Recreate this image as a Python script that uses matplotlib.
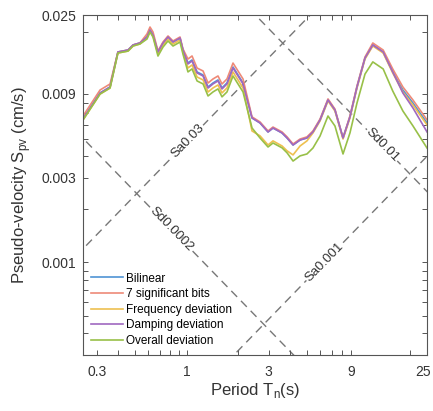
import numpy as np
import matplotlib
matplotlib.use('Agg')
import matplotlib.pyplot as plt
import matplotlib.transforms as mtransforms
from matplotlib.ticker import FixedLocator, NullFormatter, LogLocator

plt.rcParams['font.family'] = ['Liberation Sans', 'DejaVu Sans']

# periods (s)
period = [0.25, 0.314, 0.359, 0.399, 0.457, 0.489, 0.536, 0.589, 0.613, 0.638,
          0.682, 0.730, 0.780, 0.834, 0.916, 0.953, 1.019, 1.076, 1.151, 1.247,
          1.333, 1.425, 1.523, 1.607, 1.718, 1.862, 2.129, 2.402, 2.673, 2.976,
          3.18, 3.59, 3.84, 4.16, 4.57, 5.01, 5.43, 5.97, 6.64, 7.29,
          8.12, 8.91, 9.79, 10.9, 12.1, 13.9, 15.8, 18.1, 20.7, 25.0]

# pseudo-velocity (cm/s)
bilinear = [0.00646, 0.00906, 0.00980, 0.01545, 0.01585, 0.01693, 0.01738, 0.01879, 0.02056, 0.01928,
            0.01545, 0.01738, 0.01879, 0.01760, 0.01854, 0.01585, 0.01339, 0.01393, 0.01191, 0.01146,
            0.00980, 0.01033, 0.01074, 0.00968, 0.01033, 0.01271, 0.01033, 0.00655, 0.00614, 0.00546,
            0.00575, 0.00539, 0.00505, 0.00461, 0.00492, 0.00505, 0.00546, 0.00638, 0.00828, 0.00726,
            0.00505, 0.00664, 0.00980, 0.01429, 0.01693, 0.01545, 0.01191, 0.00942, 0.00796, 0.00614]

bits7 = [0.00672, 0.00942, 0.01019, 0.01545, 0.01585, 0.01693, 0.01738, 0.01954, 0.02138, 0.02005,
         0.01565, 0.01761, 0.01903, 0.01783, 0.01878, 0.01606, 0.01410, 0.01467, 0.01254, 0.01207,
         0.01032, 0.01088, 0.01131, 0.01019, 0.01088, 0.01338, 0.01088, 0.00664, 0.00622, 0.00553,
         0.00582, 0.00546, 0.00512, 0.00467, 0.00498, 0.00512, 0.00553, 0.00646, 0.00839, 0.00735,
         0.00505, 0.00673, 0.00993, 0.01448, 0.01737, 0.01585, 0.01239, 0.00980, 0.00828, 0.00639]

freq_dev = [0.00638, 0.00894, 0.00967, 0.01525, 0.01564, 0.01671, 0.01715, 0.01855, 0.02029, 0.01903,
            0.01505, 0.01693, 0.01830, 0.01714, 0.01806, 0.01544, 0.01255, 0.01305, 0.01116, 0.01074,
            0.00918, 0.00968, 0.01006, 0.00907, 0.00968, 0.01191, 0.00968, 0.00553, 0.00519, 0.00461,
            0.00486, 0.00455, 0.00427, 0.00405, 0.00455, 0.00486, 0.00539, 0.00630, 0.00817, 0.00717,
            0.00498, 0.00655, 0.00967, 0.01410, 0.01671, 0.01525, 0.01176, 0.00917, 0.00775, 0.00598]

damp_dev = [0.00646, 0.00906, 0.00980, 0.01545, 0.01585, 0.01693, 0.01738, 0.01879, 0.02056, 0.01928,
            0.01545, 0.01738, 0.01879, 0.01760, 0.01854, 0.01585, 0.01322, 0.01375, 0.01176, 0.01131,
            0.00967, 0.01020, 0.01060, 0.00955, 0.01020, 0.01255, 0.01020, 0.00655, 0.00614, 0.00546,
            0.00575, 0.00539, 0.00505, 0.00461, 0.00492, 0.00505, 0.00546, 0.00638, 0.00828, 0.00726,
            0.00505, 0.00664, 0.00980, 0.01429, 0.01693, 0.01545, 0.01191, 0.00906, 0.00746, 0.00546]

overall_dev = [0.00638, 0.00894, 0.00967, 0.01525, 0.01564, 0.01671, 0.01715, 0.01830, 0.02003, 0.01878,
               0.01466, 0.01649, 0.01783, 0.01670, 0.01759, 0.01504, 0.01192, 0.01240, 0.01060, 0.01020,
               0.00872, 0.00919, 0.00956, 0.00862, 0.00919, 0.01131, 0.00919, 0.00575, 0.00505, 0.00449,
               0.00473, 0.00444, 0.00416, 0.00374, 0.00400, 0.00410, 0.00443, 0.00518, 0.00672, 0.00590,
               0.00410, 0.00539, 0.00796, 0.01160, 0.01358, 0.01239, 0.00930, 0.00717, 0.00591, 0.00443]

labels = ['Bilinear', '7 significant bits', 'Frequency deviation',
          'Damping deviation', 'Overall deviation']
colors = ['#4f94d4', '#ee8a78', '#eec050', '#a068c0', '#98c048']

# tripartite guide lines
sd_levels = [0.0002, 0.01]
sa_levels = [0.03, 0.001]
# where the labels sit (period, s)
sd_label_T = [0.812, 13.7]
sa_label_T = [1.02, 6.3]

x_ticks = [0.3, 1, 3, 9, 25]
x_ticklabels = ['0.3', '1', '3', '9', '25']
y_ticks = [0.001, 0.003, 0.009, 0.025]
y_ticklabels = ['0.001', '0.003', '0.009', '0.025']


def main():
    fig = plt.figure(figsize=(4.33, 4.11), dpi=100)
    ax = fig.add_axes([0.1917, 0.1363, 0.7945, 0.8272])
    ax.set_xscale('log')
    ax.set_yscale('log')
    ax.set_xlim(0.25, 25)
    ax.set_ylim(0.0003, 0.025)

    series = [bilinear, bits7, freq_dev, damp_dev, overall_dev]
    for s, lab, c in zip(series, labels, colors):
        ax.plot(period, s, color=c, lw=1.2, label=lab)

    tt = np.array([0.05, 200.0])
    dash = dict(color='#777777', lw=1.0, dashes=(6, 4), zorder=1)
    for sd in sd_levels:
        ax.plot(tt, 2 * np.pi * sd / tt, **dash)
    for sa in sa_levels:
        ax.plot(tt, sa * tt / (2 * np.pi), **dash)

    # text angle along the lines in screen space
    p0 = ax.transData.transform((1, 0.001))
    p1 = ax.transData.transform((10, 0.01))
    ang = np.degrees(np.arctan2(p1[1] - p0[1], p1[0] - p0[0]))
    tkw = dict(fontsize=9.5, color='#333333', ha='center', va='center',
               rotation_mode='anchor',
               bbox=dict(facecolor='white', edgecolor='none', pad=0.5))
    for sd, t in zip(sd_levels, sd_label_T):
        ax.text(t, 2 * np.pi * sd / t, 'Sd%g' % sd, rotation=-ang, **tkw)
    for sa, t in zip(sa_levels, sa_label_T):
        ax.text(t, sa * t / (2 * np.pi), 'Sa%g' % sa, rotation=ang, **tkw)

    ax.xaxis.set_major_locator(FixedLocator(x_ticks))
    ax.set_xticklabels(x_ticklabels)
    ax.yaxis.set_major_locator(FixedLocator(y_ticks))
    ax.set_yticklabels(y_ticklabels)
    for axis in (ax.xaxis, ax.yaxis):
        axis.set_minor_locator(LogLocator(base=10, subs=np.arange(2, 10)))
        axis.set_minor_formatter(NullFormatter())
    ax.tick_params(which='both', direction='in', top=True, right=True,
                   length=3.5, width=0.7, color='#555555',
                   labelsize=10, labelcolor='#333333')
    ax.tick_params(axis='x', pad=7)
    ax.tick_params(axis='y', pad=5)
    for sp in ax.spines.values():
        sp.set_color('#555555')
        sp.set_linewidth(0.8)

    # keep the last x label inside the figure
    last = ax.get_xticklabels()[-1]
    last.set_transform(last.get_transform() +
                       mtransforms.ScaledTranslation(-3 / 72, 0, fig.dpi_scale_trans))

    ax.set_xlabel('Period T$_{\\mathregular{n}}$(s)', fontsize=12, color='#333333', labelpad=2)
    ax.set_ylabel('Pseudo-velocity S$_{\\mathregular{pv}}$ (cm/s)', fontsize=12,
                  color='#333333', labelpad=6)

    ax.legend(loc='lower left', bbox_to_anchor=(0.0, 0.0), frameon=False,
              fontsize=8.5, handlelength=2.7, handletextpad=0.2,
              labelspacing=0.3, borderaxespad=0.3)

    fig.savefig('out.png', dpi=100)


if __name__ == '__main__':
    main()
